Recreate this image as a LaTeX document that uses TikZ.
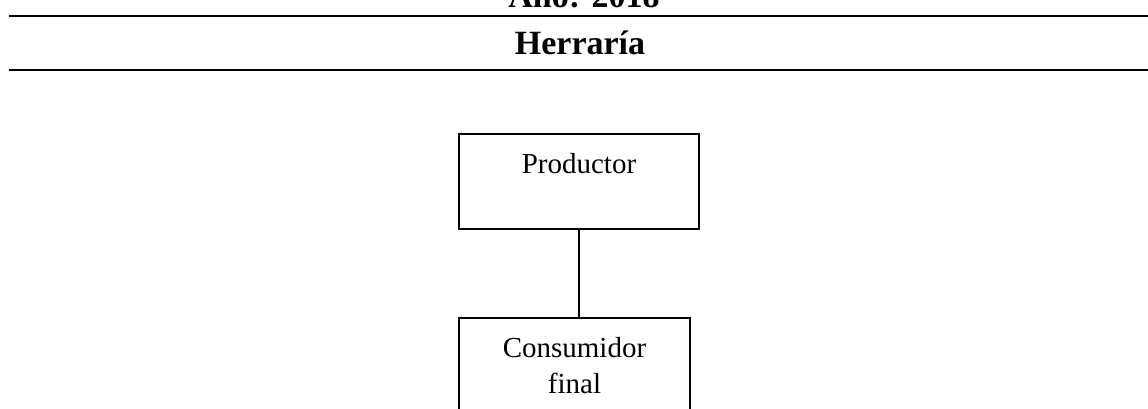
\documentclass[tikz,border=0pt]{standalone}
\usepackage{fontspec}
\setmainfont{Liberation Serif}
\usepackage{tikz}
\usetikzlibrary{positioning, calc}

\begin{document}
\begin{tikzpicture}[x=1pt, y=-1pt, line width=2pt,
    title/.style={anchor=base, inner sep=0pt, font=\fontsize{34}{40}\selectfont\bfseries},
    rule/.style={line width=2pt},
    box/.style={rectangle, draw, line width=2pt, font=\fontsize{29}{36}\selectfont, align=center}]

    \useasboundingbox (0,0) rectangle (1148,408);
    \clip (0,0) rectangle (1148,408);

    % Header
    \node[title] (year) at (584,7) {Año: 2018};
    \node[title] (sector) at (580,54) {Herraría};
    \coordinate (ruleAw) at (9,16);
    \coordinate (ruleAe) at (1148,16);
    \coordinate (ruleBw) at (9,70);
    \coordinate (ruleBe) at (1148,70);
    \draw[rule] (ruleAw) -- (ruleAe);
    \draw[rule] (ruleBw) -- (ruleBe);

    % Boxes
    \node[box, anchor=north, minimum width=240pt, inner ysep=19pt,
      text height=20pt, text depth=37pt] (prod) at (579,133) {Productor};
    \node[box, anchor=north, minimum width=231pt, minimum height=95pt] (cons) at (574.5,317) {Consumidor\\final};

    % Link
    \draw (prod.south) -- (prod.south |- cons.north);
\end{tikzpicture}
\end{document}
